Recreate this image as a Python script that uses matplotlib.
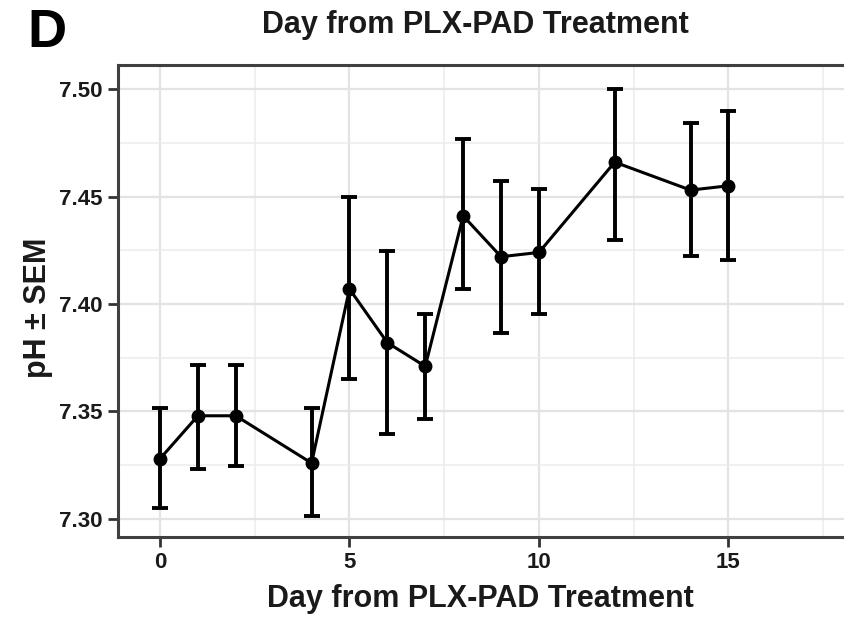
import numpy as np
import matplotlib
matplotlib.use("Agg")
import matplotlib.pyplot as plt
from matplotlib.ticker import MultipleLocator

plt.rcParams['font.family'] = ['Liberation Sans', 'DejaVu Sans']
plt.rcParams['font.weight'] = 'bold'

# Data
days = [0, 1, 2, 4, 5, 6, 7, 8, 9, 10, 12, 14, 15]
ph_mean = [7.328, 7.348, 7.348, 7.326, 7.407, 7.382, 7.371, 7.441, 7.422, 7.424, 7.466, 7.453, 7.455]
ph_upper = [7.3515, 7.3716, 7.3716, 7.3515, 7.4499, 7.4248, 7.3955, 7.4767, 7.4574, 7.4533, 7.500, 7.484, 7.4899]
ph_lower = [7.305, 7.3231, 7.3248, 7.3014, 7.3651, 7.3395, 7.3465, 7.4068, 7.3864, 7.3953, 7.4298, 7.4223, 7.4205]

x_ticks = [0, 5, 10, 15]
y_ticks = [7.30, 7.35, 7.40, 7.45, 7.50]

mean = np.array(ph_mean)
yerr = [mean - np.array(ph_lower), np.array(ph_upper) - mean]

fig = plt.figure(figsize=(8.44, 6.2), dpi=100)
ax = fig.add_axes([118 / 844, 1 - 537 / 620, (844 - 118) / 844, (537 - 65) / 620])

# grid
ax.xaxis.set_major_locator(MultipleLocator(5))
ax.xaxis.set_minor_locator(MultipleLocator(2.5))
ax.yaxis.set_major_locator(MultipleLocator(0.05))
ax.yaxis.set_minor_locator(MultipleLocator(0.025))
ax.grid(which='major', color='#e3e3e3', linewidth=1.6)
ax.grid(which='minor', color='#ececec', linewidth=1.1)
ax.set_axisbelow(True)

ax.errorbar(days, ph_mean, yerr=yerr, fmt='none', ecolor='black',
            elinewidth=2.8, capsize=6, capthick=2.8, zorder=3)
ax.plot(days, ph_mean, color='black', linewidth=2.2, marker='o',
        markersize=9, zorder=4)

ax.set_xlim(-1.108, 18.05)
ax.set_ylim(7.2916, 7.5112)
ax.set_xticks(x_ticks)
ax.set_xticklabels([str(t) for t in x_ticks])
ax.set_yticks(y_ticks)
ax.set_yticklabels(['%.2f' % t for t in y_ticks])

ax.tick_params(which='minor', length=0)
ax.tick_params(which='major', length=7, width=2, color='#333333',
               labelsize=16, labelcolor='#1a1a1a', pad=4)
for lab in ax.get_xticklabels() + ax.get_yticklabels():
    lab.set_fontweight('bold')

for side in ['left', 'bottom', 'top']:
    ax.spines[side].set_color('#404040')
    ax.spines[side].set_linewidth(2.2)
ax.spines['right'].set_visible(False)

fig.text(475 / 844, 1 - 33 / 620, 'Day from PLX-PAD Treatment', ha='center', va='baseline',
         fontsize=22, fontweight='bold', color='#1a1a1a')
fig.text(480 / 844, 1 - 607 / 620, 'Day from PLX-PAD Treatment', ha='center', va='baseline',
         fontsize=22, fontweight='bold', color='#1a1a1a')
fig.text(38 / 844, 1 - 308 / 620, 'pH \u00b1 SEM', ha='center', va='center', rotation=90,
         fontsize=22, fontweight='bold', color='#1a1a1a')
fig.text(27 / 844, 1 - 47 / 620, 'D', ha='left', va='baseline',
         fontsize=39, fontweight='bold', color='black')

fig.savefig('out.png', dpi=100)
